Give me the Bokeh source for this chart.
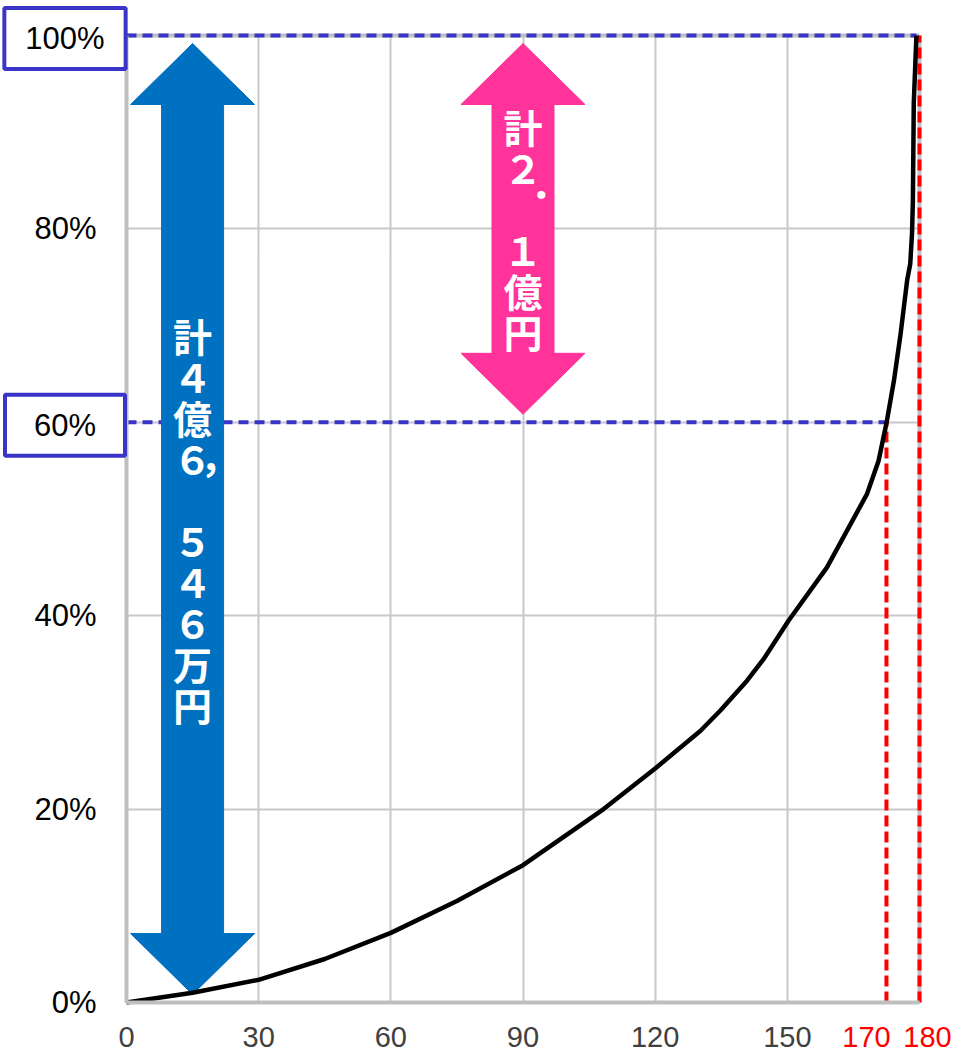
from bokeh.plotting import figure
from bokeh.models import Range1d, FixedTicker, Label, ColumnDataSource
from bokeh.embed import file_html
from bokeh.resources import INLINE
from bokeh.core.properties import value

# ---------------- data ----------------
rank = [0, 15, 30, 45, 60, 75, 90, 108.3, 120, 130.3, 134.8, 140.9, 144.6, 150.3,
        159.0, 168.1, 170.7, 172.5, 174.2, 175.7, 177.2, 177.9, 178.3, 178.5, 178.7, 179.3]
cum_share = [0, 1.0, 2.35, 4.5, 7.2, 10.5, 14.2, 20.0, 24.2, 28.1, 30.2, 33.3, 35.5, 39.5,
             45.0, 52.6, 56.0, 59.9, 64.3, 69.1, 74.7, 76.4, 79.5, 82.9, 93.0, 100.0]

x_ticks = [0, 30, 60, 90, 120, 150]
y_ticks = [0, 20, 40, 80]
y_grid = [20, 40, 60, 80]
y_tick_labels = ["0%", "20%", "40%", "80%"]

boxed_levels = [100, 60]
boxed_labels = ["100%", "60%"]

marker_x = [172.5, 180]
marker_top = [60, 100]
marker_labels = ["170", "180"]

guide_y = [100, 60]
guide_end_x = [179.3, 172.5]

arrow_x = [15, 90]
arrow_bottom = [0, 60]
arrow_top = [100, 100]
arrow_texts = ["計４億６，５４６万円", "計２．１億円"]
arrow_colors = ["#0070C0", "#FF3399"]

X_MIN, X_MAX = 0, 180
Y_MIN, Y_MAX = 0, 100

# ---------------- layout constants ----------------
W, H = 962, 1053
ORIGIN_PX = (126, 1002)          # where (0, 0%) sits on the canvas
PX_X = 793 / 180                 # pixels per x unit
PX_Y = 967 / 100                 # pixels per percent
XR = (-ORIGIN_PX[0] / PX_X, (W - ORIGIN_PX[0]) / PX_X)
YR = (-(H - ORIGIN_PX[1]) / PX_Y, ORIGIN_PX[1] / PX_Y)

GRAY = "#BFBFBF"
GRID = "#C8C8C8"
BLUE_LINE = "#3A35C8"
Y_FONT = 31
X_FONT = 29

p = figure(width=W, height=H,
           x_range=Range1d(*XR), y_range=Range1d(*YR),
           output_backend="svg", toolbar_location=None, min_border=0)
p.outline_line_color = None
p.background_fill_color = "white"
p.border_fill_color = "white"

# grids
p.xgrid.ticker = FixedTicker(ticks=x_ticks)
p.xgrid.grid_line_color = GRID
p.xgrid.grid_line_width = 2
p.xgrid.bounds = (X_MIN, X_MAX)
p.xgrid.cross_bounds = (Y_MIN, Y_MAX)
p.ygrid.ticker = FixedTicker(ticks=y_grid)
p.ygrid.grid_line_color = GRID
p.ygrid.grid_line_width = 2
p.ygrid.bounds = (Y_MIN, Y_MAX)
p.ygrid.cross_bounds = (X_MIN, X_MAX)

# axes (fixed at the data origin)
for ax in (p.xaxis, p.yaxis):
    ax.fixed_location = 0
    ax.axis_line_color = GRAY
    ax.axis_line_width = 4
    ax.major_tick_line_color = None
    ax.minor_tick_line_color = None
    ax.major_tick_out = 0
    ax.major_tick_in = 0
    ax.major_label_text_font = "Liberation Sans"

p.xaxis.ticker = FixedTicker(ticks=x_ticks)
p.xaxis.bounds = (X_MIN, X_MAX)
p.xaxis.major_label_text_font_size = f"{X_FONT}px"
p.xaxis.major_label_text_color = "#404040"
p.xaxis.major_label_standoff = 24

p.yaxis.ticker = FixedTicker(ticks=y_ticks)
p.yaxis.bounds = (Y_MIN, Y_MAX)
p.yaxis.major_label_overrides = {t: l for t, l in zip(y_ticks, y_tick_labels)}
p.yaxis.major_label_text_font_size = f"{Y_FONT}px"
p.yaxis.major_label_text_color = "#000000"
p.yaxis.major_label_standoff = 30

# plot-area top / right borders
p.line([X_MIN, X_MAX], [Y_MAX, Y_MAX], line_color=GRAY, line_width=4)
p.line([X_MAX, X_MAX], [Y_MIN, Y_MAX], line_color=GRAY, line_width=4)

# guides
p.segment(x0=[X_MIN] * len(guide_y), y0=guide_y, x1=guide_end_x, y1=guide_y,
          line_color=BLUE_LINE, line_width=4, line_dash="10 6")
p.segment(x0=marker_x, y0=[Y_MIN] * len(marker_x), x1=marker_x, y1=marker_top,
          line_color="#FF0000", line_width=4, line_dash="11 5")

# double arrows
HEAD_LEN = 61 / PX_Y
INSET = 8 / PX_Y
HEAD_HW = 62 / PX_X
SHAFT_HW = 31 / PX_X
xs, ys = [], []
for xc, y0, y1 in zip(arrow_x, arrow_bottom, arrow_top):
    tb, tt = y0 + INSET, y1 - INSET
    xs.append([xc, xc + HEAD_HW, xc + SHAFT_HW, xc + SHAFT_HW, xc + HEAD_HW,
               xc, xc - HEAD_HW, xc - SHAFT_HW, xc - SHAFT_HW, xc - HEAD_HW])
    ys.append([tt, tt - HEAD_LEN, tt - HEAD_LEN, tb + HEAD_LEN, tb + HEAD_LEN,
               tb, tb + HEAD_LEN, tb + HEAD_LEN, tt - HEAD_LEN, tt - HEAD_LEN])
p.patches(xs, ys, fill_color=arrow_colors, line_color=arrow_colors, line_width=1)

# vertical text inside arrows
PITCH = 41 / PX_Y
PUNCT = {"，": (27, -44), "．": (27, -26)}
tx, ty, tt_, xo, yo = [], [], [], [], []
for xc, y0, y1, text in zip(arrow_x, arrow_bottom, arrow_top, arrow_texts):
    n = len(text)
    mid = (y0 + y1) / 2
    for i, ch in enumerate(text):
        tx.append(xc)
        ty.append(mid + (n - 1) / 2 * PITCH - i * PITCH)
        tt_.append(ch)
        dx, dy = PUNCT.get(ch, (0, 0))
        xo.append(dx)
        yo.append(dy)
src = ColumnDataSource(dict(x=tx, y=ty, text=tt_, xo=xo, yo=yo))
p.text(x="x", y="y", text="text", x_offset="xo", y_offset="yo", source=src,
       text_color="white", text_font=value("Noto Sans CJK JP"), text_font_style="bold",
       text_font_size="39px", text_align="center", text_baseline="middle")

# cumulative curve
p.line(rank, cum_share, line_color="black", line_width=4.5, line_join="round")

# boxed y labels
CHAR_W = {"%": 0.889}
for lvl, txt in zip(boxed_levels, boxed_labels):
    w = sum(CHAR_W.get(c, 0.556) for c in txt) * Y_FONT
    padh = max(0, int(round((121 - w) / 2)))
    p.add_layout(Label(x=X_MIN, y=lvl, x_offset=-61.5, y_offset=-3, text=txt,
                       text_align="center", text_baseline="middle",
                       text_font="Liberation Sans", text_font_size=f"{Y_FONT}px",
                       text_color="#000000",
                       border_line_color=BLUE_LINE, border_line_width=4,
                       background_fill_color="white",
                       padding=dict(left=padh, right=padh, top=13, bottom=13)))

# red x labels
LBL_DX = [-20, 8]
for mx, lbl, dx in zip(marker_x, marker_labels, LBL_DX):
    p.add_layout(Label(x=mx, y=Y_MIN, x_offset=dx, y_offset=-34, text=lbl,
                       text_align="center", text_baseline="middle",
                       text_font="Liberation Sans", text_font_size=f"{X_FONT}px",
                       text_color="#FF0000"))

open("out.html", "w").write(file_html(p, INLINE))
